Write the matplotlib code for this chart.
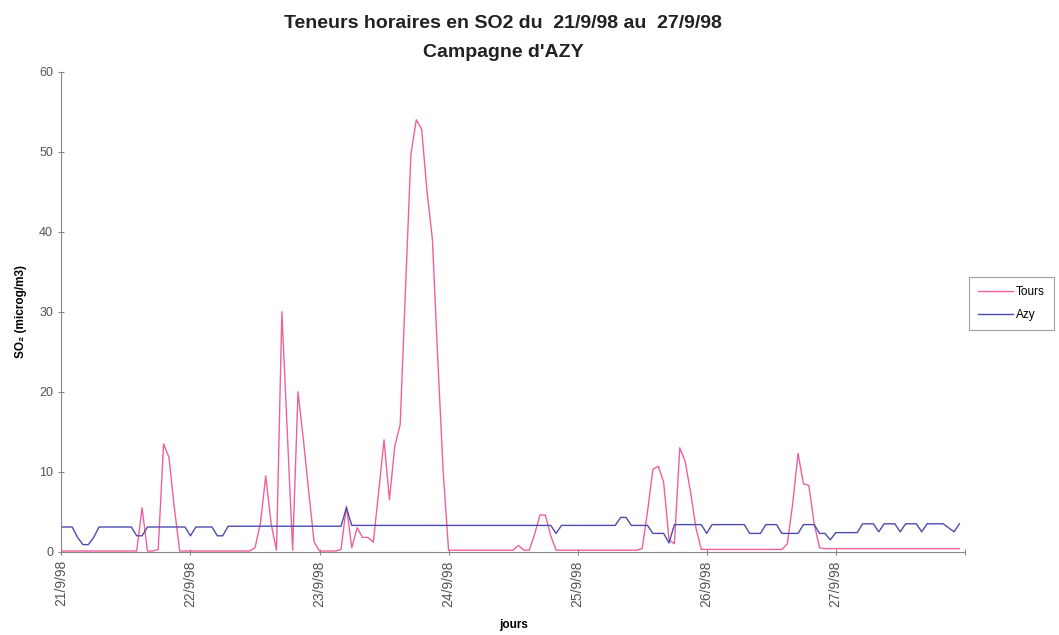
import numpy as np
import matplotlib.pyplot as plt

plt.rcParams['font.family'] = ['Liberation Sans', 'DejaVu Sans']

# hourly SO2 values (microg/m3), 21/9/98 00h -> 27/9/98 23h
tours = (
    [0.1] * 15 + [5.5, 0.1, 0.1, 0.3, 13.5, 11.8, 5.5, 0.1, 0.1]
    + [0.1] * 12 + [0.5, 3.5, 9.5, 3.5, 0.2, 30.0, 15.0, 0.2, 20.0, 14.0, 7.5, 1.2]
    + [0.1, 0.1, 0.1, 0.1, 0.3, 5.7, 0.5, 3.0, 1.8, 1.8, 1.2, 7.5, 14.0, 6.5,
       13.2, 15.9, 33.0, 49.7, 54.0, 52.8, 45.0, 39.0, 24.0, 10.0]
    + [0.2] * 13 + [0.8, 0.2, 0.2, 2.2, 4.6, 4.6, 2.0, 0.2, 0.2, 0.2, 0.2]
    + [0.2] * 12 + [0.4, 5.0, 10.3, 10.7, 8.7, 1.5, 1.0, 13.0, 11.3, 7.5, 3.0, 0.3]
    + [0.3] * 14 + [0.3, 1.0, 6.0, 12.3, 8.5, 8.3, 3.5, 0.5, 0.4, 0.4]
    + [0.4] * 24
)
azy = (
    [3.1, 3.1, 3.1, 1.8, 0.9, 0.9, 1.8] + [3.1] * 7 + [2.0, 2.0] + [3.1] * 8
    + [2.0] + [3.1] * 4 + [2.0, 2.0] + [3.2] * 17
    + [3.2] * 5 + [5.5] + [3.3] * 18
    + [3.3] * 20 + [2.3] + [3.3] * 3
    + [3.3] * 8 + [4.3, 4.3] + [3.3] * 4 + [2.3] * 3 + [1.1] + [3.4] * 6
    + [2.3] + [3.4] * 7 + [2.3] * 3 + [3.4] * 3 + [2.3] * 4 + [3.4] * 3 + [2.3] * 2 + [1.5]
    + [2.4] * 5 + [3.5] * 3 + [2.5] + [3.5] * 3 + [2.5] + [3.5] * 3 + [2.5]
    + [3.5] * 4 + [3.0, 2.5, 3.5]
)
day_labels = ["21/9/98", "22/9/98", "23/9/98", "24/9/98", "25/9/98", "26/9/98", "27/9/98"]

fig = plt.figure(figsize=(10.59, 6.35), dpi=100)
ax = fig.add_axes([0.058, 0.131, 0.853, 0.756])

hours = np.arange(len(tours))
ax.plot(hours, tours, color='#f0609a', linewidth=1.0, label='Tours')
ax.plot(np.arange(len(azy)), azy, color='#4c4cae', linewidth=1.0, label='Azy')

ax.set_xlim(0, 168)
ax.set_ylim(0, 60)
ax.set_yticks(np.arange(0, 61, 10))
ax.set_xticks(np.arange(0, 169, 24))
ax.set_xticklabels(day_labels + [""], rotation=90, fontsize=10, color='#555555')
ax.tick_params(axis='y', labelsize=9, labelcolor='#555555', direction='inout',
               length=5, color='#888888')
ax.tick_params(axis='x', direction='inout', length=5, color='#888888')

for side in ['top', 'right']:
    ax.spines[side].set_visible(False)
for side in ['left', 'bottom']:
    ax.spines[side].set_color('#888888')

ax.set_ylabel("SO\u2082 (microg/m3)", fontsize=8.5, fontweight='bold', labelpad=9)
ax.set_xlabel("jours", fontsize=8.5, fontweight='bold', labelpad=9)

fig.text(0.475, 0.963, "Teneurs horaires en SO2 du  21/9/98 au  27/9/98",
         ha='center', va='center', fontsize=14, fontweight='bold', color='#222222')
fig.text(0.475, 0.918, "Campagne d'AZY", ha='center', va='center',
         fontsize=14, fontweight='bold', color='#222222')

leg = ax.legend(loc='center left', bbox_to_anchor=(0.909, 0.522),
                bbox_transform=fig.transFigure, fontsize=8.5, frameon=True,
                fancybox=False, handlelength=3.0, handletextpad=0.2,
                borderpad=0.8, labelspacing=0.9)
leg.get_frame().set_edgecolor('#888888')
leg.get_frame().set_linewidth(0.8)

fig.savefig("out.png", dpi=100)
